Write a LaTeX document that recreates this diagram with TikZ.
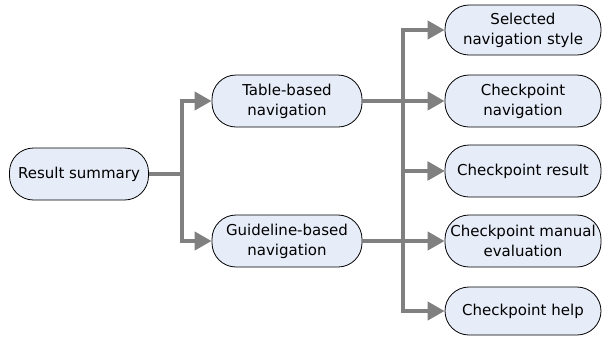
\documentclass[tikz,border=0pt]{standalone}
\usepackage{fontspec}
\setmainfont{DejaVu Sans}
\usetikzlibrary{arrows.meta}
\definecolor{boxfill}{HTML}{E6ECF8}
\definecolor{linegray}{HTML}{808080}
\tikzset{
  box/.style={draw=black, line width=0.8bp, fill=boxfill, rounded corners=24bp,
    align=center, inner sep=0pt, font=\fontsize{15bp}{20bp}\selectfont},
  conn/.style={draw=linegray, line width=4bp, -{Triangle[length=17bp,width=18bp]}}
}
\begin{document}
\begin{tikzpicture}[x=1bp,y=-1bp]
\useasboundingbox (0,0) rectangle (603,337);
\node[box, minimum width=139bp, minimum height=52bp] (rs) at (79,174) {Result summary};
\node[box, minimum width=150bp, minimum height=52bp] (tb) at (287,101) {Table-based\\navigation};
\node[box, minimum width=150bp, minimum height=52bp] (gb) at (287,241) {Guideline-based\\navigation};
\node[box, minimum width=156bp, minimum height=50bp] (s1) at (523,30) {Selected\\navigation style};
\node[box, minimum width=156bp, minimum height=52bp] (s2) at (523,101) {Checkpoint\\navigation};
\node[box, minimum width=156bp, minimum height=52bp] (s3) at (523,171) {Checkpoint result};
\node[box, minimum width=156bp, minimum height=52bp] (s4) at (523,241) {Checkpoint manual\\evaluation};
\node[box, minimum width=156bp, minimum height=48bp] (s5) at (523,311) {Checkpoint help};
\coordinate (t1) at (182,174);
\coordinate (t2) at (403,101);
\coordinate (t3) at (403,241);
\draw[conn] (rs.east) -- (t1) |- (tb.west);
\draw[conn] (rs.east) -- (t1) |- (gb.west);
\draw[conn] (tb.east) -- (t2) |- (s1.west);
\draw[conn] (tb.east) -- (s2.west);
\draw[conn] (tb.east) -- (t2) |- (s3.west);
\draw[conn] (gb.east) -- (t3) |- (s3.west);
\draw[conn] (gb.east) -- (s4.west);
\draw[conn] (gb.east) -- (t3) |- (s5.west);
\end{tikzpicture}
\end{document}
